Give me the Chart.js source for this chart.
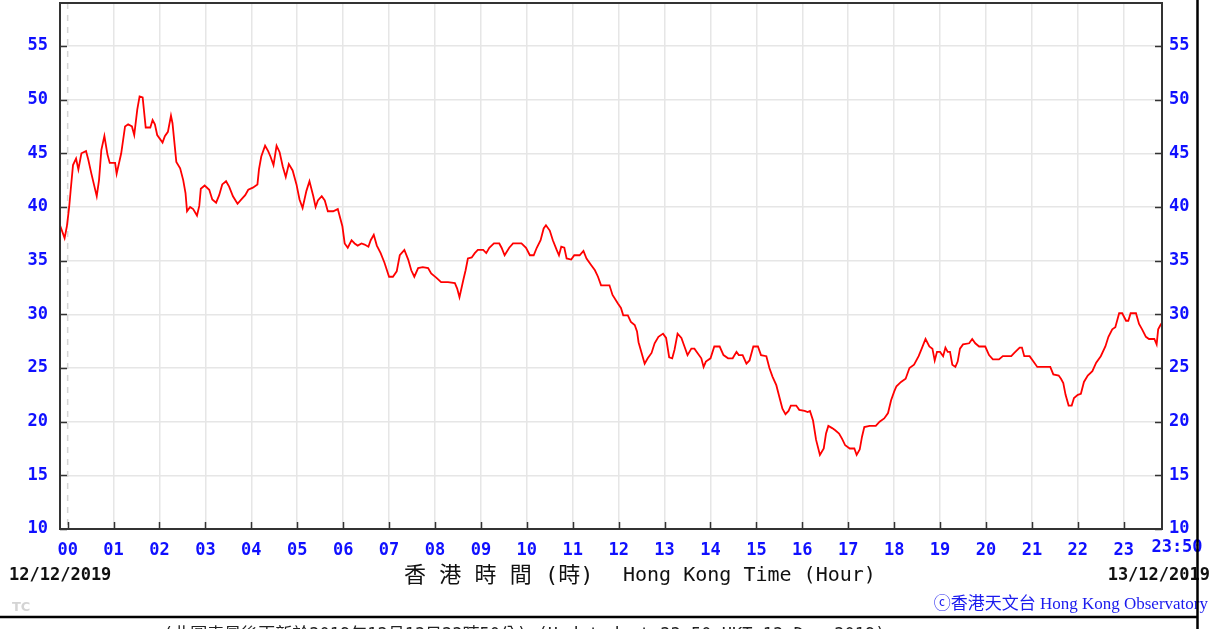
<!DOCTYPE html>
<html>
<head>
<meta charset="utf-8">
<script src="https://cdn.jsdelivr.net/npm/chart.js@4.4.1/dist/chart.umd.min.js"></script>
<style>
  html, body { margin: 0; padding: 0; background: #fff; }
  #wrap { position: relative; width: 1226px; height: 629px; }
</style>
</head>
<body>
<div id="wrap"><canvas id="hkoChart"></canvas></div>
<script>
// minutes after 00:00 on 12/12/2019
var sampleMinutes = [
    -10, -4, -1, 2, 4, 7, 11, 14, 18, 24, 27, 31, 38, 41, 44, 48, 52, 55, 62, 64,
    70, 75, 79, 84, 87, 91, 94, 98, 102, 108, 111, 114, 117, 124, 127, 131, 135, 137, 142, 147,
    151, 154, 156, 160, 164, 169, 172, 174, 179, 185, 189, 194, 198, 202, 207, 211, 216, 222, 227, 232,
    236, 242, 248, 250, 253, 258, 262, 265, 269, 273, 277, 281, 285, 289, 294, 299, 303, 307, 312, 316,
    321, 324, 327, 332, 336, 340, 347, 353, 359, 362, 366, 371, 375, 379, 384, 388, 393, 396, 400, 404,
    409, 414, 420, 425, 430, 434, 440, 445, 449, 453, 458, 464, 471, 475, 482, 488, 497, 506, 509, 512,
    517, 520, 523, 528, 532, 536, 543, 547, 551, 557, 564, 567, 571, 577, 582, 593, 599, 604, 609, 613,
    618, 622, 625, 630, 634, 639, 642, 645, 649, 652, 658, 662, 669, 674, 678, 684, 689, 693, 697, 708,
    712, 719, 723, 726, 732, 736, 741, 744, 746, 750, 754, 758, 763, 767, 772, 778, 782, 786, 790, 793,
    797, 802, 806, 810, 815, 819, 823, 828, 831, 834, 840, 845, 852, 857, 863, 869, 874, 877, 882, 887,
    891, 896, 902, 906, 913, 917, 921, 926, 930, 934, 938, 942, 945, 952, 956, 963, 967, 970, 974, 978,
    983, 988, 991, 994, 999, 1003, 1008, 1012, 1016, 1022, 1028, 1031, 1035, 1038, 1041, 1048, 1056, 1061, 1067, 1072,
    1076, 1080, 1083, 1089, 1095, 1100, 1106, 1112, 1116, 1121, 1126, 1130, 1133, 1136, 1140, 1144, 1147, 1150, 1153, 1156,
    1160, 1163, 1166, 1170, 1178, 1182, 1186, 1191, 1199, 1204, 1209, 1217, 1222, 1233, 1237, 1244, 1247, 1250, 1257, 1262,
    1267, 1284, 1288, 1295, 1298, 1301, 1304, 1308, 1312, 1315, 1320, 1324, 1328, 1333, 1339, 1344, 1350, 1356, 1360, 1365,
    1369, 1374, 1378, 1383, 1386, 1389, 1396, 1400, 1404, 1409, 1413, 1420, 1423, 1425, 1428, 1430
];
var sampleValues = [
    38.3, 37.1, 38.2, 40.0, 41.6, 43.9, 44.5, 43.5, 45.0, 45.2, 44.4, 43.1, 41.0, 42.5, 45.3, 46.6, 44.9, 44.1, 44.1, 43.1,
    45.0, 47.5, 47.7, 47.5, 46.7, 49.1, 50.3, 50.2, 47.4, 47.4, 48.1, 47.7, 46.7, 46.0, 46.6, 47.0, 48.5, 47.8, 44.2, 43.6,
    42.5, 41.3, 39.6, 40.0, 39.8, 39.2, 40.1, 41.7, 42.0, 41.6, 40.7, 40.4, 41.1, 42.1, 42.4, 41.9, 41.0, 40.3, 40.7, 41.1,
    41.6, 41.8, 42.1, 43.5, 44.7, 45.7, 45.2, 44.7, 43.9, 45.7, 45.1, 43.8, 42.8, 44.0, 43.4, 42.1, 40.7, 39.9, 41.5, 42.4,
    41.0, 40.0, 40.6, 41.0, 40.6, 39.6, 39.6, 39.8, 38.2, 36.6, 36.2, 36.9, 36.6, 36.4, 36.6, 36.5, 36.3, 36.9, 37.4, 36.4,
    35.7, 34.8, 33.5, 33.5, 34.0, 35.5, 36.0, 35.1, 34.1, 33.5, 34.3, 34.4, 34.3, 33.8, 33.4, 33.0, 33.0, 32.9, 32.4, 31.6,
    33.2, 34.1, 35.2, 35.3, 35.7, 36.0, 36.0, 35.7, 36.2, 36.6, 36.6, 36.2, 35.5, 36.2, 36.6, 36.6, 36.2, 35.5, 35.5, 36.2,
    36.9, 38.0, 38.3, 37.8, 36.9, 36.0, 35.5, 36.3, 36.2, 35.2, 35.1, 35.5, 35.5, 35.9, 35.2, 34.6, 34.1, 33.5, 32.7, 32.7,
    31.8, 31.0, 30.6, 29.9, 29.9, 29.3, 29.0, 28.4, 27.4, 26.4, 25.4, 25.9, 26.4, 27.3, 27.9, 28.2, 27.8, 26.0, 25.9, 26.7,
    28.2, 27.8, 27.0, 26.2, 26.8, 26.8, 26.4, 25.9, 25.1, 25.6, 25.9, 27.0, 27.0, 26.2, 25.9, 25.9, 26.5, 26.2, 26.2, 25.4,
    25.7, 27.0, 27.0, 26.2, 26.1, 25.0, 24.2, 23.4, 22.3, 21.2, 20.7, 21.0, 21.5, 21.5, 21.1, 21.0, 20.9, 21.0, 20.1, 18.3,
    16.9, 17.5, 18.9, 19.6, 19.4, 19.2, 18.9, 18.4, 17.8, 17.5, 17.5, 16.9, 17.4, 18.6, 19.5, 19.6, 19.6, 20.0, 20.3, 20.8,
    22.0, 22.8, 23.3, 23.7, 24.0, 25.0, 25.3, 26.1, 26.8, 27.7, 27.0, 26.8, 25.7, 26.5, 26.5, 26.1, 26.9, 26.5, 26.5, 25.3,
    25.1, 25.6, 26.8, 27.2, 27.3, 27.7, 27.3, 27.0, 27.0, 26.2, 25.8, 25.8, 26.1, 26.1, 26.4, 26.9, 26.9, 26.1, 26.1, 25.6,
    25.1, 25.1, 24.4, 24.3, 24.0, 23.6, 22.5, 21.5, 21.5, 22.2, 22.5, 22.6, 23.7, 24.3, 24.7, 25.5, 26.1, 27.0, 27.9, 28.6,
    28.8, 30.1, 30.1, 29.4, 29.4, 30.1, 30.1, 29.1, 28.6, 27.9, 27.7, 27.7, 27.2, 28.6, 29.0, 29.2
];

var hourTicks = [0, 60, 120, 180, 240, 300, 360, 420, 480, 540, 600, 660, 720, 780, 840, 900, 960, 1020, 1080, 1140, 1200, 1260, 1320, 1380];
var hourLabels = ['00', '01', '02', '03', '04', '05', '06', '07', '08', '09', '10', '11', '12', '13', '14', '15', '16', '17', '18', '19', '20', '21', '22', '23'];
var yTicks = [10, 15, 20, 25, 30, 35, 40, 45, 50, 55];
var endTick = 1430;
var endLabel = '23:50';
var startDate = '12/12/2019';
var endDate = '13/12/2019';
var axisTitleZh = '香 港 時 間 (時)';
var axisTitleEn = 'Hong Kong Time (Hour)';
var creditText = 'ⓒ香港天文台 Hong Kong Observatory';
var footNote = '(此圖表最後更新於2019年12月13日23時50分) (Updated at 23:50 HKT 13 Dec 2019)';

var tickBlue = '#1010ff';
var monoBold = { family: 'DejaVu Sans Mono', size: 17, weight: 'bold' };

var points = sampleMinutes.map(function(m, i) {
    return { x: m, y: sampleValues[i] };
});

// keep the plot box exactly where the reference has it
function noScalePadding(scale) {
    scale.paddingTop = 0;
    scale.paddingBottom = 0;
    scale.paddingLeft = 0;
    scale.paddingRight = 0;
}

// frame, inner tick marks, dashed midnight line and all the loose texts
var hkoDecor = {
    id: 'hkoDecor',
    beforeDatasetsDraw: function(chart) {
        var ctx = chart.ctx;
        var a = chart.chartArea;
        var x0 = chart.scales.x.getPixelForValue(0);
        ctx.save();
        ctx.strokeStyle = '#d6d6d6';
        ctx.lineWidth = 1.5;
        ctx.setLineDash([6, 6]);
        ctx.beginPath();
        ctx.moveTo(x0, a.top);
        ctx.lineTo(x0, a.bottom);
        ctx.stroke();
        ctx.restore();
    },
    afterDraw: function(chart) {
        var ctx = chart.ctx;
        var a = chart.chartArea;
        var xs = chart.scales.x;
        var ys = chart.scales.y;
        ctx.save();

        ctx.strokeStyle = '#333';
        ctx.lineWidth = 2;
        ctx.strokeRect(a.left, a.top, a.right - a.left, a.bottom - a.top);

        ctx.beginPath();
        hourTicks.forEach(function(v) {
            var px = Math.round(xs.getPixelForValue(v)) + 0.5;
            ctx.moveTo(px, a.bottom);
            ctx.lineTo(px, a.bottom - 7);
        });
        yTicks.forEach(function(v) {
            var py = Math.round(ys.getPixelForValue(v)) + 0.5;
            ctx.moveTo(a.left, py);
            ctx.lineTo(a.left + 7, py);
            ctx.moveTo(a.right - 7, py);
            ctx.lineTo(a.right, py);
        });
        ctx.lineWidth = 1.5;
        ctx.stroke();

        ctx.textBaseline = 'middle';
        ctx.fillStyle = tickBlue;
        ctx.font = 'bold 17px "DejaVu Sans Mono"';
        ctx.textAlign = 'center';
        ctx.fillText(endLabel, xs.getPixelForValue(endTick) + 15, a.bottom + 19);

        ctx.fillStyle = '#111';
        ctx.textAlign = 'left';
        ctx.fillText(startDate, 9, 576);
        ctx.textAlign = 'right';
        ctx.fillText(endDate, 1210, 576);

        ctx.textAlign = 'left';
        ctx.font = '22px "DejaVu Sans Mono", "Noto Sans CJK TC"';
        ctx.fillText(axisTitleZh, 404, 576);
        ctx.font = '20px "DejaVu Sans Mono"';
        ctx.fillText(axisTitleEn, 623, 576);

        ctx.fillStyle = '#d4d4d4';
        ctx.font = 'bold 13px "DejaVu Sans"';
        ctx.fillText('TC', 12, 608);

        ctx.fillStyle = '#1a1aee';
        ctx.font = '17px "Liberation Serif", "Noto Sans CJK TC"';
        ctx.textAlign = 'right';
        ctx.fillText(creditText, 1208, 605);

        ctx.strokeStyle = '#000';
        ctx.lineWidth = 2.5;
        ctx.setLineDash([]);
        ctx.beginPath();
        ctx.moveTo(0, 617);
        ctx.lineTo(1198, 617);
        ctx.moveTo(1197.5, 0);
        ctx.lineTo(1197.5, 629);
        ctx.stroke();

        ctx.fillStyle = '#222';
        ctx.textAlign = 'left';
        ctx.textBaseline = 'top';
        ctx.font = '17px "DejaVu Sans Mono", "Noto Sans CJK TC"';
        ctx.fillText(footNote, 163, 627);

        ctx.restore();
    }
};

var chart = new Chart(document.getElementById('hkoChart'), {
    type: 'line',
    data: {
        datasets: [{
            data: points,
            borderColor: '#ff0000',
            borderWidth: 1.8,
            pointRadius: 0,
            tension: 0,
            fill: false
        }]
    },
    options: {
        responsive: true,
        maintainAspectRatio: false,
        animation: false,
        layout: { padding: { top: 3, left: 0, right: 0, bottom: 0 } },
        plugins: {
            legend: { display: false },
            tooltip: { enabled: false }
        },
        scales: {
            x: {
                type: 'linear',
                min: -10,
                max: endTick,
                afterBuildTicks: function(scale) {
                    scale.ticks = hourTicks.map(function(v) { return { value: v }; });
                },
                afterFit: function(scale) {
                    scale.height = 100;
                    noScalePadding(scale);
                },
                border: { display: false },
                grid: {
                    color: function(c) {
                        return c.tick && c.tick.value === 0 ? 'rgba(0,0,0,0)' : '#e6e6e6';
                    },
                    lineWidth: 1.5,
                    drawTicks: false
                },
                ticks: {
                    autoSkip: false,
                    maxRotation: 0,
                    padding: 11,
                    color: tickBlue,
                    font: monoBold,
                    callback: function(value, index) { return hourLabels[index]; }
                }
            },
            y: {
                position: 'left',
                min: 10,
                max: 59,
                afterBuildTicks: function(scale) {
                    scale.ticks = yTicks.map(function(v) { return { value: v }; });
                },
                afterFit: function(scale) {
                    scale.width = 60;
                    noScalePadding(scale);
                },
                border: { display: false },
                grid: {
                    color: function(c) {
                        return c.tick && c.tick.value === 10 ? 'rgba(0,0,0,0)' : '#e6e6e6';
                    },
                    lineWidth: 1.5,
                    drawTicks: false
                },
                ticks: { padding: 12, color: tickBlue, font: monoBold }
            },
            y2: {
                position: 'right',
                min: 10,
                max: 59,
                afterBuildTicks: function(scale) {
                    scale.ticks = yTicks.map(function(v) { return { value: v }; });
                },
                afterFit: function(scale) {
                    scale.width = 64;
                    noScalePadding(scale);
                },
                border: { display: false },
                grid: { display: false, drawTicks: false },
                ticks: { padding: 7, color: tickBlue, font: monoBold }
            }
        }
    },
    plugins: [hkoDecor]
});
</script>
</body>
</html>
